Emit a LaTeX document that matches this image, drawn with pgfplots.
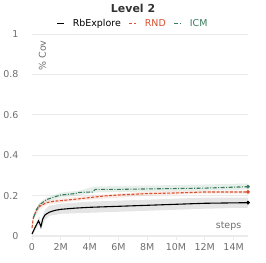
\documentclass[border=0pt]{standalone}
\usepackage{pgfplots}
\pgfplotsset{compat=1.18}
\usepackage{fontspec}
\setmainfont{DejaVu Sans}
\definecolor{rndc}{HTML}{D9502E}
\definecolor{icmc}{HTML}{3B7A5C}
\definecolor{gridc}{HTML}{EBEBEB}
\definecolor{tickc}{HTML}{6E6E6E}
\begin{document}
\begin{tikzpicture}
\useasboundingbox (0,0) rectangle (266bp,263bp);
\begin{axis}[
  at={(32bp,27bp)}, anchor=south west,
  scale only axis, width=216bp, height=202bp,
  xmin=0, xmax=15, ymin=0, ymax=1,
  clip=false,
  axis x line*=bottom, axis y line*=left,
  x axis line style={draw=gridc, line width=1.2pt, -},
  y axis line style={draw=none},
  xtick={0,2,...,14}, xticklabels={0,2M,4M,6M,8M,10M,12M,14M},
  ytick={0,0.2,0.4,0.6,0.8,1}, yticklabels={0,0.2,0.4,0.6,0.8,1},
  ymajorgrids, major grid style={draw=gridc, line width=0.6pt},
  xtick style={draw=gridc, line width=0.8pt},
  ytick style={draw=none},
  xtick align=outside, major tick length=4bp,
  yticklabel style={xshift=-10bp},
  tick label style={font=\fontsize{9.5}{11}\selectfont, text=tickc},
  /pgf/number format/assume math mode=true,
  legend style={at={(0.468,1.01)}, anchor=south, draw=none, fill=none,
    font=\fontsize{9.5}{11}\selectfont, column sep=6pt},
  legend columns=3,
  legend image code/.code={\draw[#1] (0bp,0bp) -- (7bp,0bp);},
]
% bands
\addplot[draw=none, fill=black, fill opacity=0.1, forget plot] coordinates {
(0,0.0) (0.5,0.06) (0.6,0.03) (0.9,0.08) (1.2,0.1) (2,0.11) (4,0.115) (8,0.125) (12,0.135) (15,0.14)
(15,0.19) (12,0.19) (8,0.18) (4,0.17) (2,0.16) (1.2,0.15) (0.9,0.13) (0.6,0.07) (0.5,0.1) (0,0.02)} -- cycle;
\addplot[draw=none, fill=rndc, fill opacity=0.12, forget plot] coordinates {
(0,0.02) (0.1,0.08) (0.5,0.13) (1,0.155) (2,0.165) (4,0.18) (6,0.19) (8,0.2) (12,0.21) (15,0.21)
(15,0.225) (12,0.225) (8,0.22) (6,0.21) (4,0.2) (2,0.185) (1,0.175) (0.5,0.16) (0.1,0.11) (0,0.06)} -- cycle;
\addplot[draw=none, fill=icmc, fill opacity=0.12, forget plot] coordinates {
(0.1,0.08) (0.5,0.14) (1,0.17) (2,0.19) (3.3,0.2) (4.3,0.215) (8,0.22) (12,0.225) (15,0.23)
(15,0.26) (12,0.255) (8,0.25) (4.3,0.245) (3.3,0.225) (2,0.215) (1,0.19) (0.5,0.165) (0.1,0.1)} -- cycle;
% lines
\addplot[black, line width=1.1pt] coordinates {
(0,0.01) (0.2,0.04) (0.45,0.075) (0.55,0.06) (0.62,0.046) (0.75,0.085) (0.9,0.104) (1.2,0.118) (1.6,0.127) (2,0.132) (3,0.138) (4,0.142) (6,0.147) (8,0.152) (10,0.157) (12,0.162) (13,0.163) (15,0.165)};
\addlegendentry{RbExplore}
\addplot[rndc, line width=1.1pt, dash pattern=on 3pt off 1.5pt] coordinates {
(0,0.04) (0.1,0.094) (0.3,0.125) (0.5,0.145) (1,0.165) (1.5,0.172) (2,0.175) (3,0.182) (4,0.19) (5,0.198) (6,0.203) (8,0.21) (10,0.213) (12,0.218) (15,0.218)};
\addlegendentry{\textcolor{rndc}{RND}}
\addplot[icmc, line width=1.1pt, dash pattern=on 4pt off 1.5pt on 1pt off 1.5pt] coordinates {
(0.1,0.09) (0.3,0.13) (0.5,0.153) (1,0.18) (1.5,0.192) (2,0.203) (3,0.21) (3.3,0.216) (4.2,0.218) (4.4,0.231) (6,0.231) (8,0.233) (10,0.235) (12,0.237) (15,0.244)};
\addlegendentry{\textcolor{icmc}{ICM}}
\addplot[black, only marks, mark=*, mark size=1.7pt, forget plot] coordinates {(15,0.165)};
\addplot[rndc, only marks, mark=*, mark size=1.7pt, forget plot] coordinates {(15,0.218)};
\addplot[icmc, only marks, mark=*, mark size=1.7pt, forget plot] coordinates {(15,0.244)};
\node[rotate=90, anchor=north east, font=\fontsize{9.5}{11}\selectfont, text=tickc] at (rel axis cs:0.015,0.985) {\% Cov};
\node[anchor=south east, font=\fontsize{9.5}{11}\selectfont, text=tickc] at (rel axis cs:0.985,0.012) {steps};
\node[font=\bfseries\fontsize{11}{13}\selectfont, text=black!80] at (rel axis cs:0.468,1.125) {Level 2};
\end{axis}
\end{tikzpicture}
\end{document}
